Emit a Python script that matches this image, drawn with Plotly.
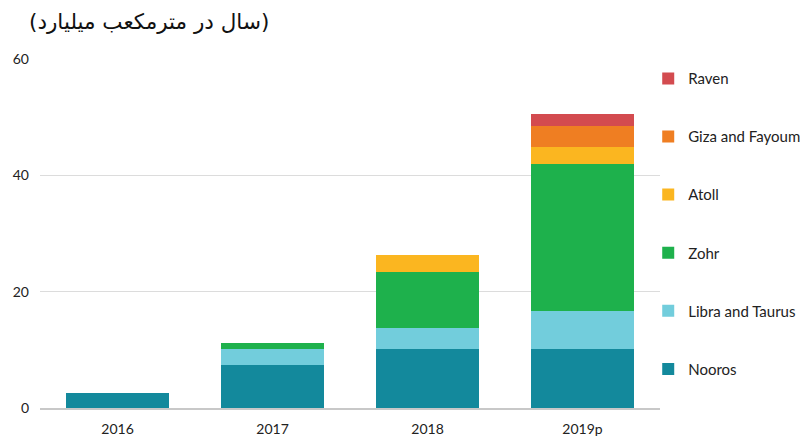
import plotly.graph_objects as go

years = ["2016", "2017", "2018", "2019p"]
series_names = ["Nooros", "Libra and Taurus", "Zohr", "Atoll", "Giza and Fayoum", "Raven"]
nooros = [2.6, 7.45, 10.15, 10.15]
libra_taurus = [0, 2.7, 3.6, 6.6]
zohr = [0, 1.1, 9.7, 25.25]
atoll = [0, 0, 2.9, 2.8]
giza_fayoum = [0, 0, 0, 3.65]
raven = [0, 0, 0, 2.15]
colors = ["#13899C", "#72CDDC", "#1EB14C", "#FBB620", "#EF7E22", "#D34B4F"]
y_ticks = [0, 20, 40, 60]
# word order as shown in the picture (rendered left to right)
title_text = "(سال در مترمکعب میلیارد)"

values = [nooros, libra_taurus, zohr, atoll, giza_fayoum, raven]

fig = go.Figure()
n = len(series_names)
for i, (name, vals, col) in enumerate(zip(series_names, values, colors)):
    fig.add_trace(go.Bar(
        x=years, y=vals, name=name, legendgroup=name, legendrank=n - i,
        marker=dict(color=col, line=dict(width=0)),
    ))

fig.update_layout(
    barmode="stack",
    bargap=0.335,
    width=802, height=437,
    margin=dict(l=40, r=142, t=59, b=29, autoexpand=False),
    plot_bgcolor="white", paper_bgcolor="white",
    font=dict(family="Lato, 'Noto Sans', sans-serif", size=14, color="#222"),
    legend=dict(
        traceorder="grouped", tracegroupgap=35.6, maxheight=430,
        x=-0.019, xref="paper", xanchor="left", y=0.991, yanchor="top",
        bgcolor="rgba(0,0,0,0)",
        font=dict(size=15, color="#222"),
        itemclick=False,
    ),
    annotations=[dict(
        text=title_text, xref="paper", yref="paper", x=-0.021, y=1.0,
        xanchor="left", yanchor="bottom", yshift=23, showarrow=False,
        font=dict(family="DejaVu Sans, sans-serif", size=21.5, color="#111"),
    )],
)
fig.update_layout(legend_x=1.0 - 0.019)
fig.update_xaxes(showline=True, linecolor="#c8c8c8", linewidth=1.5, ticks="",
                 automargin=False, ticklabelstandoff=7,
                 tickfont=dict(size=14, color="#222"))
fig.update_yaxes(range=[0, 60], tickvals=y_ticks, showgrid=True, gridcolor="#dcdcdc",
                 gridwidth=1, zeroline=False, showline=False, ticklabelstandoff=10,
                 automargin=False, tickfont=dict(size=14, color="#222"))

fig.write_html("out.html", config={"displayModeBar": False},
               post_script="document.body.style.margin='0';")
